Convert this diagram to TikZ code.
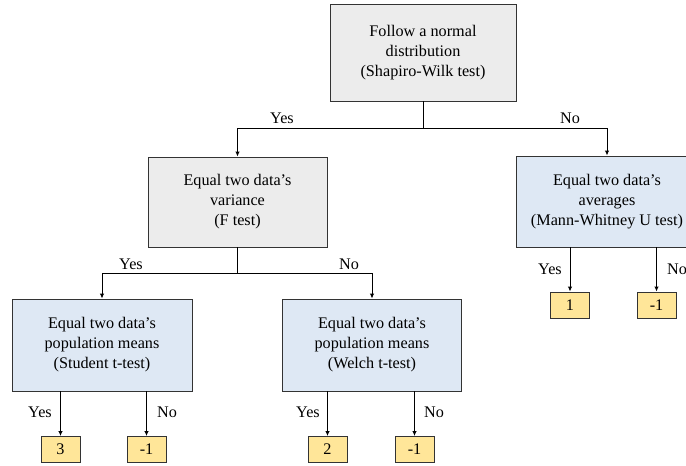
\documentclass[tikz,border=0pt]{standalone}
\usepackage{fontspec}
\setmainfont{Liberation Serif}
\usetikzlibrary{arrows.meta}
\definecolor{boxgray}{HTML}{ECECEC}
\definecolor{boxblue}{HTML}{DEE8F4}
\definecolor{boxyellow}{HTML}{FFE699}
\begin{document}
\begin{tikzpicture}[x=1pt,y=-1pt,
  every node/.style={font=\fontsize{16.2}{20}\selectfont},
  qbox/.style={draw=black!80,line width=0.9pt,align=center,inner sep=0pt},
  graybox/.style={qbox,fill=boxgray},
  bluebox/.style={qbox,fill=boxblue},
  leaf/.style={draw=black!80,line width=0.9pt,fill=boxyellow,minimum width=39pt,minimum height=26pt,inner sep=0pt},
  conn/.style={line width=1pt,black},
  arr/.style={conn,-{Latex[length=5pt,width=4.5pt]}},
  lbl/.style={inner sep=0pt}]
\useasboundingbox (0,0) rectangle (686,466);

\node[graybox,minimum width=186pt,minimum height=97pt] (top) at (423,52.5) {Follow a normal\\distribution\\(Shapiro-Wilk test)};
\node[graybox,minimum width=179pt,minimum height=90pt] (var) at (237.5,202) {Equal two data’s\\variance\\(F test)};
\node[bluebox,minimum width=182pt,minimum height=91pt] (mw) at (607,201.5) {Equal two data’s\\averages\\(Mann-Whitney U test)};
\node[bluebox,minimum width=180pt,minimum height=92pt] (stu) at (102,345) {Equal two data’s\\population means\\(Student t-test)};
\node[bluebox,minimum width=179pt,minimum height=92pt] (wel) at (372,345) {Equal two data’s\\population means\\(Welch t-test)};

\node[leaf] (l3) at (60.5,449.5) {3};
\node[leaf] (m1a) at (146.5,449.5) {-1};
\node[leaf] (l2) at (327.5,449.5) {2};
\node[leaf] (m1b) at (414.5,449.5) {-1};
\node[leaf] (l1) at (570,305) {1};
\node[leaf] (m1c) at (656.5,305) {-1};

% top split
\coordinate (j1) at (423,128);
\draw[conn] (top.south) -- (j1);
\draw[arr] (j1) -| (var.north);
\draw[arr] (j1) -| (mw.north);
\node[lbl] (ty) at (282,118) {Yes};
\node[lbl] (tn) at (570,118) {No};

% variance split
\coordinate (j2) at (237.5,273);
\draw[conn] (var.south) -- (j2);
\draw[arr] (j2) -| (stu.north);
\draw[arr] (j2) -| (wel.north);
\node[lbl] (vy) at (131,264) {Yes};
\node[lbl] (vn) at (349,264) {No};

% leaves
\draw[arr] (stu.south -| l3.north) -- (l3.north);
\draw[arr] (stu.south -| m1a.north) -- (m1a.north);
\draw[arr] (wel.south -| l2.north) -- (l2.north);
\draw[arr] (wel.south -| m1b.north) -- (m1b.north);
\draw[arr] (mw.south -| l1.north) -- (l1.north);
\draw[arr] (mw.south -| m1c.north) -- (m1c.north);

\node[lbl] (sy) at (40,412) {Yes};
\node[lbl] (sn) at (167,412) {No};
\node[lbl] (wy) at (308,412) {Yes};
\node[lbl] (wn) at (434,412) {No};
\node[lbl] (my) at (550,269) {Yes};
\node[lbl] (mn) at (677,269) {No};
\end{tikzpicture}
\end{document}
